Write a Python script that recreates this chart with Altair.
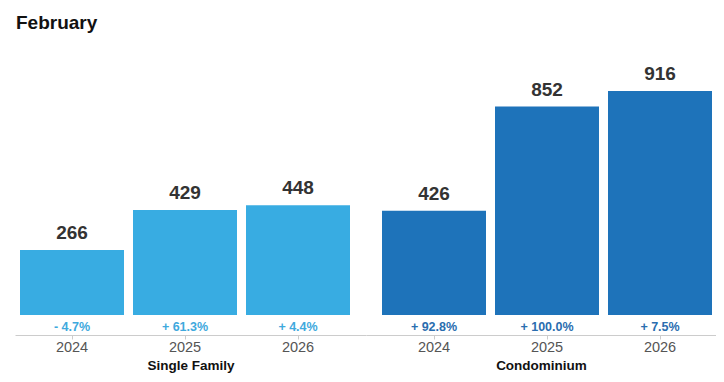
import altair as alt
import pandas as pd

groups = ["Single Family", "Single Family", "Single Family", "Condominium", "Condominium", "Condominium"]
years = ["2024", "2025", "2026", "2024", "2025", "2026"]
values = [266, 429, 448, 426, 852, 916]
changes = ["- 4.7%", "+ 61.3%", "+ 4.4%", "+ 92.8%", "+ 100.0%", "+ 7.5%"]

bar_colors = {"Single Family": "#38ACE2", "Condominium": "#1E73BA"}
pct_colors = {"Single Family": "#3FA9DD", "Condominium": "#2A6DAF"}

df = pd.DataFrame({"group": groups, "year": years, "value": values, "change": changes})

H = 294
FONT = "Liberation Sans"
PI = 9 / 113


def panel(name, width, align):
    d = df[df.group == name]
    po = (width / 113 - 3 + PI) / 2
    x = alt.X(
        "year:N",
        sort=None,
        scale=alt.Scale(paddingInner=PI, paddingOuter=po, align=align),
        axis=alt.Axis(
            title=name,
            titleFont=FONT,
            titleFontSize=13.5,
            titleFontWeight="bold",
            titleColor="#111111",
            titlePadding=5,
            labelFont=FONT,
            labelFontSize=14.5,
            labelColor="#555555",
            labelPadding=1,
            labelAngle=0,
            domainColor="#cccccc",
            tickColor="#cccccc",
            tickSize=4,
            grid=False,
        ),
    )
    y = alt.Y(
        "value:Q",
        scale=alt.Scale(domain=[-82, 1120], nice=False, zero=False),
        axis=None,
    )
    base = alt.Chart(d).encode(x=x)
    bars = base.mark_bar(color=bar_colors[name]).encode(y=y, y2=alt.datum(0))
    vals = base.mark_text(
        font=FONT, fontSize=19, fontWeight="bold", color="#333333", baseline="bottom", dy=-7
    ).encode(y=y, text="value:Q")
    pct = base.mark_text(
        font=FONT, fontSize=12.5, fontWeight="bold", color=pct_colors[name], baseline="middle"
    ).encode(y=alt.value(H - 8), text="change:N")
    return alt.layer(bars, vals, pct).properties(width=width, height=H)


chart = (
    alt.hconcat(panel("Single Family", 351, 5 / 21), panel("Condominium", 350, 16 / 20), spacing=0)
    .properties(
        title=alt.TitleParams(
            "February", anchor="start", font=FONT, fontSize=19, fontWeight="bold",
            color="#111111", offset=8, dx=1
        ),
        padding={"left": 7, "top": 6, "right": 0, "bottom": 3},
    )
    .configure_view(stroke=None)
)

chart.save("out.html", embed_options={"renderer": "svg", "actions": False})
